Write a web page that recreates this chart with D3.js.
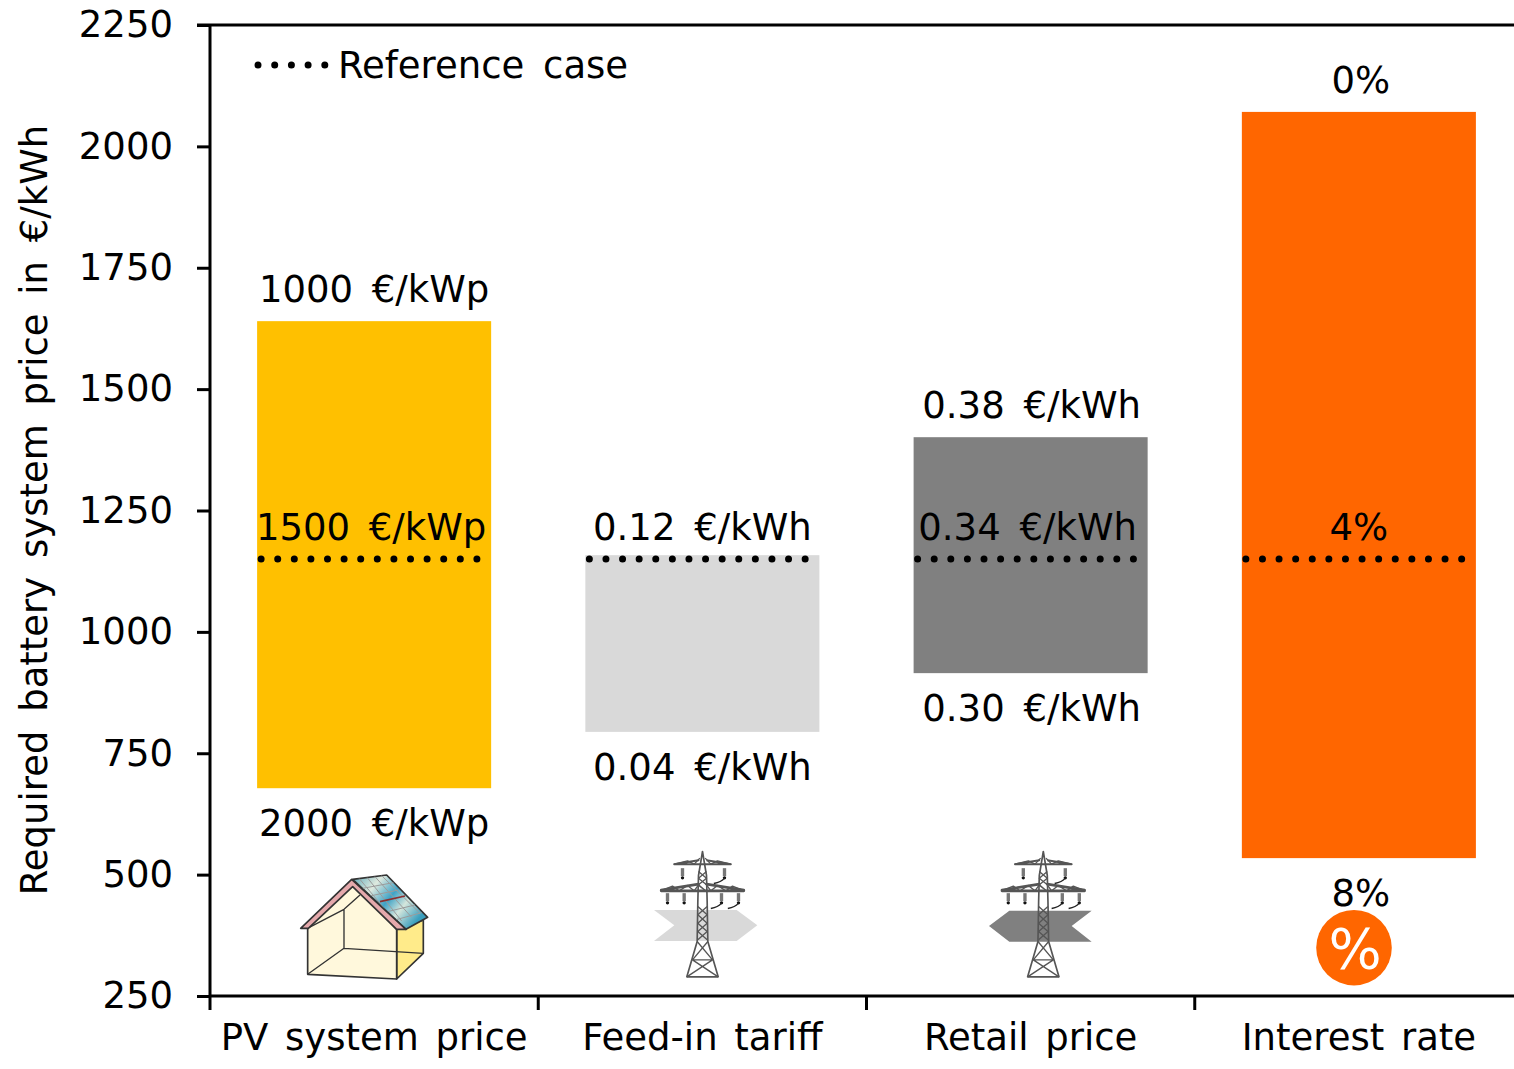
<!DOCTYPE html>
<html>
<head>
<meta charset="utf-8">
<script src="https://cdn.jsdelivr.net/npm/d3@7"></script>
<style>
  html, body { margin: 0; padding: 0; background: #fff; overflow: hidden; }
  text { font-family: "DejaVu Sans", Verdana, sans-serif; fill: #000; }
</style>
</head>
<body>
<svg id="chart" width="1514" height="1069"></svg>
<script>
// Sensitivity of the required battery system price to four parameters
const categories = ["PV system price", "Feed-in tariff", "Retail price", "Interest rate"];
const highValues = [1640, 1158, 1401, 2071];
const lowValues = [678, 794, 915, 534];
const referenceValue = 1150;
const highLabels = ["1000 €/kWp", "", "0.38 €/kWh", "0%"];
const midLabels = ["1500 €/kWp", "0.12 €/kWh", "0.34 €/kWh", "4%"];
const lowLabels = ["2000 €/kWp", "0.04 €/kWh", "0.30 €/kWh", "8%"];
const barColors = ["#ffc000", "#d9d9d9", "#808080", "#ff6600"];
const yTicks = [250, 500, 750, 1000, 1250, 1500, 1750, 2000, 2250];

const FONT = 37;
const svg = d3.select("#chart");
const y = d3.scaleLinear().domain([250, 2250]).range([996, 25]);
const x = d3.scaleBand().domain(categories).range([210, 1523]).paddingInner(0.287).paddingOuter(0.1435);

// Bars
svg.append("g").selectAll("rect").data(categories).join("rect")
  .attr("x", d => x(d))
  .attr("width", x.bandwidth())
  .attr("y", (d, i) => y(highValues[i]))
  .attr("height", (d, i) => y(lowValues[i]) - y(highValues[i]))
  .attr("fill", (d, i) => barColors[i]);

// Dotted reference level across each bar
const dotted = sel => sel
  .attr("stroke", "#000").attr("stroke-width", 7)
  .attr("stroke-linecap", "round").attr("stroke-dasharray", "0 16.6");
svg.append("g").selectAll("line").data(categories).join("line")
  .attr("x1", d => x(d) + 4)
  .attr("x2", d => x(d) + x.bandwidth() - 8)
  .attr("y1", y(referenceValue)).attr("y2", y(referenceValue))
  .call(dotted);

// Value labels above, on and below the bars
const valueLabel = (labels, pos, dx) => svg.append("g")
  .style("font-size", FONT + "px").style("word-spacing", "7px").attr("text-anchor", "middle")
  .selectAll("text").data(categories).join("text")
  .attr("x", (d, i) => x(d) + x.bandwidth() / 2 + dx[i])
  .attr("y", pos)
  .text((d, i) => labels[i]);
valueLabel(highLabels, (d, i) => y(highValues[i]) - 19, [0, 0, 1, 2]);
valueLabel(midLabels, () => y(referenceValue) - 19, [-3, 0, -3, 0]);
valueLabel(lowLabels, (d, i) => y(lowValues[i]) + 48, [0, 0, 1, 2]);

// Value axis
const yAxis = svg.append("g").attr("transform", "translate(210,0)")
  .call(d3.axisLeft(y).tickValues(yTicks).tickSize(13).tickPadding(24).tickFormat(d3.format("d")));
yAxis.selectAll("path, line").attr("stroke", "#000").attr("stroke-width", 3);
yAxis.selectAll("text").style("font-size", FONT + "px");
yAxis.select(".domain").attr("d", `M0,${y(2250)}V${y(250)}`);
svg.append("line").attr("x1", 197).attr("x2", 1514).attr("y1", y(2250)).attr("y2", y(2250))
  .attr("stroke", "#000").attr("stroke-width", 3);

// Category axis with ticks between the bands
const step = x.step();
const xAxis = svg.append("g").attr("transform", `translate(0,${y(250)})`)
  .call(d3.axisBottom(x).tickSize(0).tickPadding(28));
xAxis.select(".domain").attr("d", "M210,0H1514").attr("stroke", "#000").attr("stroke-width", 3);
xAxis.selectAll("text").style("font-size", FONT + "px").style("word-spacing", "5px");
xAxis.append("g").selectAll("line").data(categories).join("line")
  .attr("x1", (d, i) => 210 + i * step).attr("x2", (d, i) => 210 + i * step)
  .attr("y1", 0).attr("y2", 14).attr("stroke", "#000").attr("stroke-width", 3);

// Axis title
svg.append("text").attr("transform", "translate(47,510) rotate(-90)")
  .attr("text-anchor", "middle").style("font-size", FONT + "px").style("word-spacing", "7px")
  .text("Required battery system price in €/kWh");

// Legend
svg.append("line").attr("x1", 258).attr("x2", 326).attr("y1", 65).attr("y2", 65)
  .attr("stroke", "#000").attr("stroke-width", 7)
  .attr("stroke-linecap", "round").attr("stroke-dasharray", "0 16.7");
svg.append("text").attr("x", 338).attr("y", 78).style("font-size", FONT + "px").style("word-spacing", "7px")
  .text("Reference case");

// House with roof-mounted PV panels
const defs = svg.append("defs");
const pv = defs.append("linearGradient").attr("id", "pvGlass")
  .attr("x1", "0").attr("y1", "0").attr("x2", "1").attr("y2", "0.6");
pv.append("stop").attr("offset", "0").attr("stop-color", "#5aa7b8");
pv.append("stop").attr("offset", "0.3").attr("stop-color", "#dfeadf");
pv.append("stop").attr("offset", "0.55").attr("stop-color", "#3fa3c6");
pv.append("stop").attr("offset", "0.75").attr("stop-color", "#d5e6dc");
pv.append("stop").attr("offset", "1").attr("stop-color", "#3a9fbe");

const house = svg.append("g").attr("transform", "translate(280,840) scale(0.3333)")
  .attr("stroke", "#333").attr("stroke-width", 5).attr("stroke-linejoin", "round").attr("fill", "none");
house.append("path").attr("d", "M350,268L430,240V340L350,417Z").attr("fill", "#ffeb8a");
house.append("path").attr("d", "M83,265L218,125L350,268V417L83,403Z").attr("fill", "#fff8dc");
house.append("path").attr("d", "M83,403L192,325L430,340M192,325V208L88,262M192,208L240,165").attr("stroke-width", 4);
house.append("path").attr("d", "M218,118L320,105L443,232L378,268Z").attr("fill", "url(#pvGlass)");
house.append("path")
  .attr("d", "M238,116L350,250M262,113L365,243M285,110L395,232M305,107L420,220M248,145L340,128M270,168L355,150M322,215L405,195M345,240L425,218")
  .attr("stroke", "#9b9b9b").attr("stroke-width", 3);
house.append("path").attr("d", "M300,185L375,168").attr("stroke", "#8c2f2f").attr("stroke-width", 5);
house.append("path").attr("d", "M62,265L215,118L378,268H350L218,140L85,265Z").attr("fill", "#e5a9ac");

// Pylon drawn in local units centred on the mast
function pylon(cx, cy) {
  const g = svg.append("g").attr("transform", `translate(${cx},${cy}) scale(0.3333)`)
    .attr("fill", "none").attr("stroke", "#555").attr("stroke-linejoin", "round");
  g.append("path").attr("stroke-width", 5)
    .attr("d", "M0,0L-12,72L-14,150L-16,270L-47,376H47L16,270L14,150L12,72Z");
  g.append("path").attr("stroke-width", 4)
    .attr("d", "M-12,60L12,80L-12,100L12,120L-14,100M12,60L-12,80L12,100M-14,165L14,190L-14,215L14,240L-14,265M14,165L-14,190L14,215L-14,240L14,265M-16,270L30,325L-47,376M16,270L-30,325L47,376M-30,325H30");
  g.append("path").attr("stroke-width", 6).attr("d", "M-85,38L-12,26L-85,38H85L12,26");
  g.append("path").attr("stroke-width", 4).attr("d", "M-85,38L-45,28L-25,38L-8,20M85,38L45,28L25,38L8,20");
  g.append("path").attr("stroke-width", 8).attr("stroke-linecap", "round").attr("d", "M-124,116L-12,98M124,116L12,98M-124,118H124");
  g.append("path").attr("stroke-width", 4)
    .attr("d", "M-120,116L-90,104L-70,118L-45,102L-25,118L-12,100M120,116L90,104L70,118L45,102L25,118L12,100");
  // Insulators with conductor ends
  [[-60, 50], [-105, 125], [-55, 125]].forEach(([ix, iy]) => {
    g.append("rect").attr("x", ix - 5).attr("y", iy).attr("width", 10).attr("height", 24)
      .attr("fill", "#777").attr("stroke", "none");
    g.append("circle").attr("cx", ix).attr("cy", iy + 29).attr("r", 5).attr("fill", "#111").attr("stroke", "none");
  });
  [[66, 50], [57, 125], [108, 125]].forEach(([ix, iy]) => {
    g.append("rect").attr("x", ix - 5).attr("y", iy).attr("width", 10).attr("height", 24)
      .attr("fill", "#777").attr("stroke", "none");
    g.append("circle").attr("cx", ix).attr("cy", iy + 29).attr("r", 5).attr("fill", "#111").attr("stroke", "none");
    g.append("path").attr("d", `M${ix},${iy + 30}Q${ix - 10},${iy + 42} ${ix - 32},${iy + 46}`)
      .attr("stroke", "#222").attr("stroke-width", 4);
  });
}

// Flow arrows behind the pylons
svg.append("path").attr("transform", "translate(640,840) scale(0.3333)")
  .attr("d", "M42,210H290L352,256L290,303H42L103,256Z").attr("fill", "#d9d9d9");
svg.append("path").attr("transform", "translate(975,840) scale(0.3333)")
  .attr("d", "M350,212H103L42,258L103,305H350L290,258Z").attr("fill", "#808080");
pylon(702.5, 851.5);
pylon(1043.3, 851.5);

// Interest badge
svg.append("circle").attr("cx", 1354).attr("cy", 947.7).attr("r", 37.8).attr("fill", "#ff6600");
svg.append("text").attr("x", 1355).attr("y", 968).attr("text-anchor", "middle")
  .style("font-size", "56px").style("fill", "#fff").text("%");
</script>
</body>
</html>
